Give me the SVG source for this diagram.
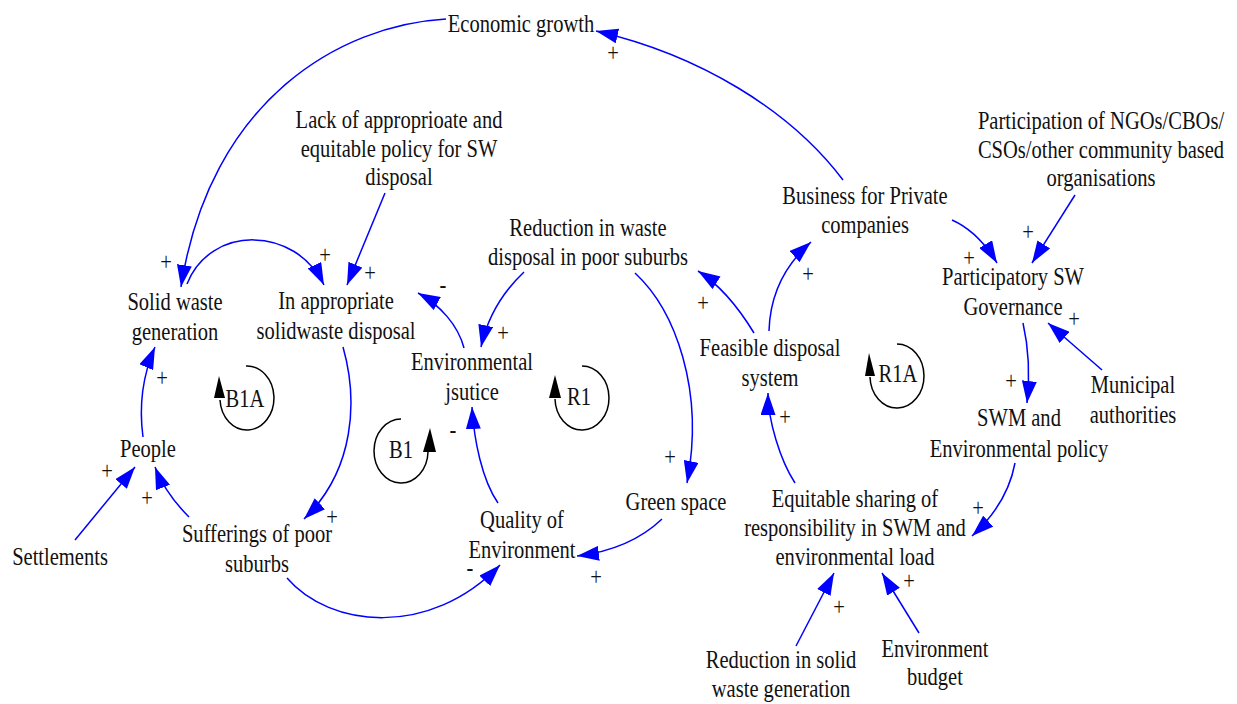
<svg xmlns="http://www.w3.org/2000/svg" width="1237" height="704" viewBox="0 0 1237 704">
<style>
.t{font-family:"Liberation Serif","Times New Roman",serif;font-size:26px;fill:#111;text-anchor:middle}
.c{fill:none;stroke:#0000ff;stroke-width:1.5;marker-end:url(#ah)}
.loop{fill:none;stroke:#000;stroke-width:1.5}
.la{fill:#000}
</style>
<defs>
<marker id="ah" markerUnits="userSpaceOnUse" viewBox="0 0 22 15" markerWidth="22" markerHeight="15" refX="22" refY="7.5" orient="auto">
<path d="M0,0 L22,7.5 L0,15 z" fill="#0000ff"/>
</marker>
</defs>
<rect width="1237" height="704" fill="#fff"/>

<g id="connectors">
<path class="c" d="M446,19 C340,25 210,100 181,287"/>
<path class="c" d="M385,193 L347,285"/>
<path class="c" d="M187,284 C210,225 295,225 324,285"/>
<path class="c" d="M143,437 C138,400 145,370 155,347"/>
<path class="c" d="M75,540 L135,467"/>
<path class="c" d="M189,517 C175,503 162,485 155,467"/>
<path class="c" d="M343,347 C358,400 355,470 304,519"/>
<path class="c" d="M287,578 C330,628 430,638 500,565"/>
<path class="c" d="M498,503 C482,480 474,440 472,407"/>
<path class="c" d="M464,348 C458,325 440,305 418,293"/>
<path class="c" d="M524,272 C505,290 488,315 481,347"/>
<path class="c" d="M635,273 C675,310 705,390 687,483"/>
<path class="c" d="M662,519 C640,540 610,552 577,556"/>
<path class="c" d="M754,333 C740,310 720,285 698,271"/>
<path class="c" d="M769,331 C770,295 785,265 811,242"/>
<path class="c" d="M843,180 C790,110 700,55 596,31"/>
<path class="c" d="M952,220 C970,228 985,243 997,263"/>
<path class="c" d="M1075,195 L1032,263"/>
<path class="c" d="M1102,370 L1048,323"/>
<path class="c" d="M1023,323 C1028,345 1030,375 1027,403"/>
<path class="c" d="M1015,463 C1010,490 995,515 972,536"/>
<path class="c" d="M795,483 C780,460 768,420 768,393"/>
<path class="c" d="M796,646 L834,573"/>
<path class="c" d="M919,633 L882,573"/>
<g id="polarities">
<text class="t" transform="translate(613,61) scale(0.79 1)">+</text>
<text class="t" transform="translate(166,270) scale(0.79 1)">+</text>
<text class="t" transform="translate(325,263) scale(0.79 1)">+</text>
<text class="t" transform="translate(370,281) scale(0.79 1)">+</text>
<text class="t" transform="translate(162,386) scale(0.79 1)">+</text>
<text class="t" transform="translate(107,479) scale(0.79 1)">+</text>
<text class="t" transform="translate(147,506) scale(0.79 1)">+</text>
<text class="t" transform="translate(332,525) scale(0.79 1)">+</text>
<text class="t" transform="translate(470,576) scale(0.79 1)">-</text>
<text class="t" transform="translate(453,438) scale(0.79 1)">-</text>
<text class="t" transform="translate(443,293) scale(0.79 1)">-</text>
<text class="t" transform="translate(503,341) scale(0.79 1)">+</text>
<text class="t" transform="translate(670,465) scale(0.79 1)">+</text>
<text class="t" transform="translate(596,585) scale(0.79 1)">+</text>
<text class="t" transform="translate(703,311) scale(0.79 1)">+</text>
<text class="t" transform="translate(808,282) scale(0.79 1)">+</text>
<text class="t" transform="translate(969,266) scale(0.79 1)">+</text>
<text class="t" transform="translate(1028,240) scale(0.79 1)">+</text>
<text class="t" transform="translate(1074,327) scale(0.79 1)">+</text>
<text class="t" transform="translate(1011,389) scale(0.79 1)">+</text>
<text class="t" transform="translate(978,516) scale(0.79 1)">+</text>
<text class="t" transform="translate(785,425) scale(0.79 1)">+</text>
<text class="t" transform="translate(839,615) scale(0.79 1)">+</text>
<text class="t" transform="translate(909,589) scale(0.79 1)">+</text>
</g>
</g>

<g id="loops">
<g id="loop-B1A">
<path class="loop" d="M246,366 A27,32 0 1 1 220,400"/>
<polygon class="la" points="214,398 225,398 219,376"/>
<text class="t" transform="translate(245,407) scale(0.79 1)">B1A</text>
</g>
<g id="loop-B1">
<path class="loop" d="M401,419 A27,32 0 1 0 428,452"/>
<polygon class="la" points="423,452 436,452 430,428"/>
<text class="t" transform="translate(401,458) scale(0.79 1)">B1</text>
</g>
<g id="loop-R1">
<path class="loop" d="M582,366 A27,32 0 1 1 555,399"/>
<polygon class="la" points="549,398 561,398 555,375"/>
<text class="t" transform="translate(579,405) scale(0.79 1)">R1</text>
</g>
<g id="loop-R1A">
<path class="loop" d="M897,344 A27,32 0 1 1 870,377"/>
<polygon class="la" points="865,376 875,376 869,353"/>
<text class="t" transform="translate(898,382) scale(0.79 1)">R1A</text>
</g>
</g>

<g id="economic-growth"><text class="t" transform="translate(521,32) scale(0.79 1)">Economic growth</text></g>
<g id="lack-policy"><text class="t" transform="translate(399,128) scale(0.79 1)"><tspan x="0" y="0">Lack of approprioate and</tspan><tspan x="0" y="29">equitable policy for SW</tspan><tspan x="0" y="57">disposal</tspan></text></g>
<g id="participation-ngos"><text class="t" transform="translate(1101,129) scale(0.79 1)"><tspan x="0" y="0">Participation of NGOs/CBOs/</tspan><tspan x="0" y="29">CSOs/other community based</tspan><tspan x="0" y="57">organisations</tspan></text></g>
<g id="business-private"><text class="t" transform="translate(865,204) scale(0.79 1)"><tspan x="0" y="0">Business for Private</tspan><tspan x="0" y="29">companies</tspan></text></g>
<g id="reduction-waste-disposal"><text class="t" transform="translate(588,236) scale(0.79 1)"><tspan x="0" y="0">Reduction in waste</tspan><tspan x="0" y="29">disposal in poor suburbs</tspan></text></g>
<g id="participatory-governance"><text class="t" transform="translate(1013,285) scale(0.79 1)"><tspan x="0" y="0">Participatory SW</tspan><tspan x="0" y="30">Governance</tspan></text></g>
<g id="solid-waste-generation"><text class="t" transform="translate(175,310) scale(0.79 1)"><tspan x="0" y="0">Solid waste</tspan><tspan x="0" y="30">generation</tspan></text></g>
<g id="inappropriate-disposal"><text class="t" transform="translate(336,309) scale(0.79 1)"><tspan x="0" y="0">In appropriate</tspan><tspan x="0" y="30">solidwaste disposal</tspan></text></g>
<g id="environmental-justice"><text class="t" transform="translate(472,370) scale(0.79 1)"><tspan x="0" y="0">Environmental</tspan><tspan x="0" y="30">jsutice</tspan></text></g>
<g id="feasible-disposal"><text class="t" transform="translate(770,356) scale(0.79 1)"><tspan x="0" y="0">Feasible disposal</tspan><tspan x="0" y="30">system</tspan></text></g>
<g id="municipal-authorities"><text class="t" transform="translate(1133,393) scale(0.79 1)"><tspan x="0" y="0">Municipal</tspan><tspan x="0" y="30">authorities</tspan></text></g>
<g id="swm-policy"><text class="t" transform="translate(1019,426) scale(0.79 1)"><tspan x="0" y="0">SWM and</tspan><tspan x="0" y="31">Environmental policy</tspan></text></g>
<g id="people"><text class="t" transform="translate(148,457) scale(0.79 1)">People</text></g>
<g id="settlements"><text class="t" transform="translate(60,565) scale(0.79 1)">Settlements</text></g>
<g id="sufferings"><text class="t" transform="translate(257,542) scale(0.79 1)"><tspan x="0" y="0">Sufferings of poor</tspan><tspan x="0" y="30">suburbs</tspan></text></g>
<g id="quality-environment"><text class="t" transform="translate(522,528) scale(0.79 1)"><tspan x="0" y="0">Quality of</tspan><tspan x="0" y="30">Environment</tspan></text></g>
<g id="green-space"><text class="t" transform="translate(676,510) scale(0.79 1)">Green space</text></g>
<g id="equitable-sharing"><text class="t" transform="translate(855,507) scale(0.79 1)"><tspan x="0" y="0">Equitable sharing of</tspan><tspan x="0" y="29">responsibility in SWM and</tspan><tspan x="0" y="58">environmental load</tspan></text></g>
<g id="reduction-solid-waste"><text class="t" transform="translate(781,668) scale(0.79 1)"><tspan x="0" y="0">Reduction in solid</tspan><tspan x="0" y="29">waste generation</tspan></text></g>
<g id="environment-budget"><text class="t" transform="translate(935,657) scale(0.79 1)"><tspan x="0" y="0">Environment</tspan><tspan x="0" y="28">budget</tspan></text></g>
</svg>
